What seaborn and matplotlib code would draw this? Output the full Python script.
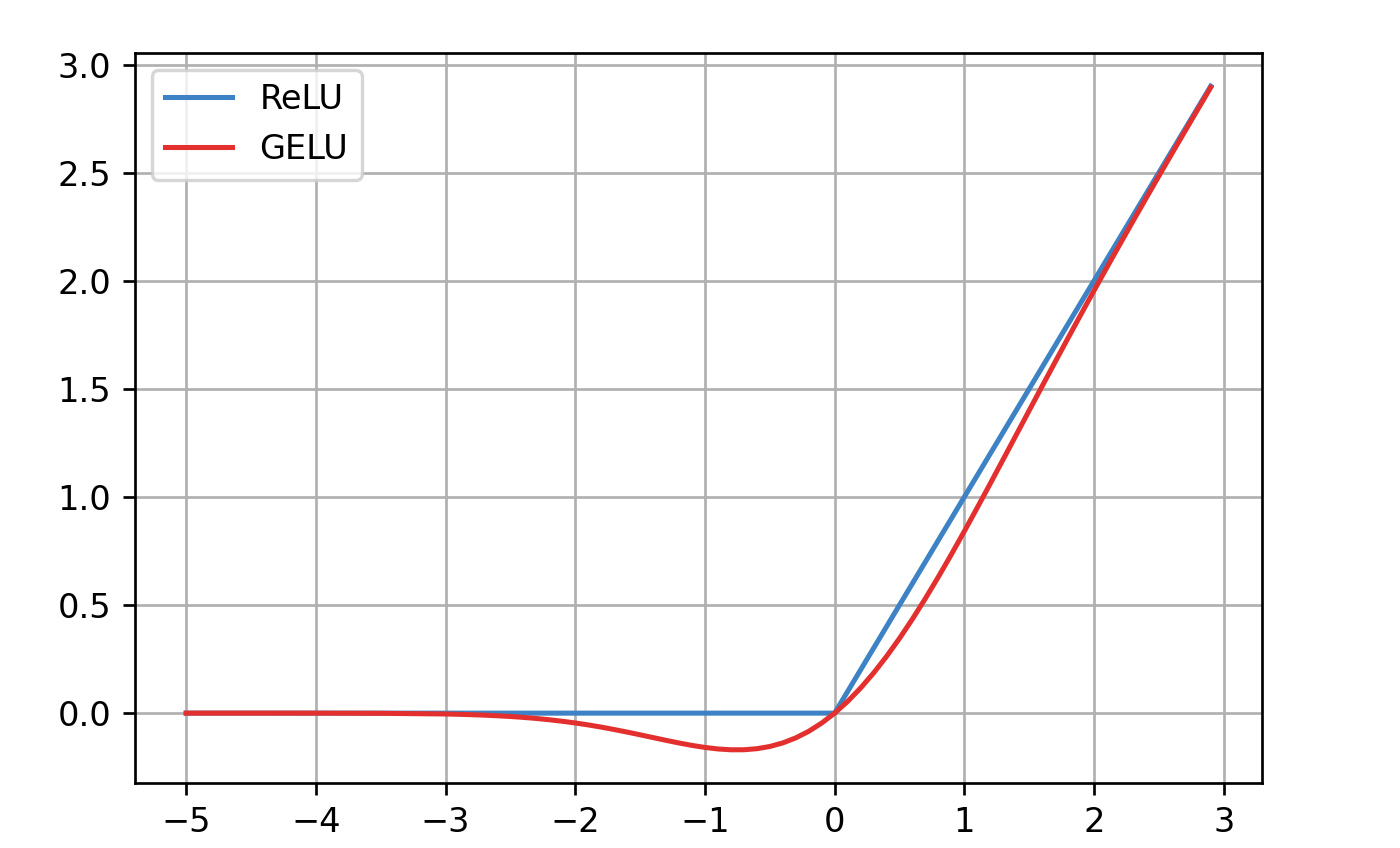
import matplotlib
matplotlib.use("Agg")
import matplotlib.pyplot as plt
import seaborn as sns

# ReLU series (piecewise linear)
relu_x = [-5.0, 0.0, 2.9]
relu_y = [0.0, 0.0, 2.9]

# GELU series
gelu_x = [-5.0, -4.5, -4.0, -3.5,
          -3.0, -2.9, -2.8, -2.7, -2.6, -2.5, -2.4, -2.3, -2.2, -2.1,
          -2.0, -1.9, -1.8, -1.7, -1.6, -1.5, -1.4, -1.3, -1.2, -1.1,
          -1.0, -0.9, -0.8, -0.7, -0.6, -0.5, -0.4, -0.3, -0.2, -0.1,
          0.0, 0.1, 0.2, 0.3, 0.4, 0.5, 0.6, 0.7, 0.8, 0.9,
          1.0, 1.1, 1.2, 1.3, 1.4, 1.5, 1.6, 1.7, 1.8, 1.9,
          2.0, 2.1, 2.2, 2.3, 2.4, 2.5, 2.6, 2.7, 2.8, 2.9]
gelu_y = [0.0, 0.0, -0.0001, -0.0008,
          -0.0040, -0.0054, -0.0072, -0.0094, -0.0122, -0.0155, -0.0197, -0.0246, -0.0306, -0.0376,
          -0.0455, -0.0545, -0.0646, -0.0758, -0.0877, -0.1002, -0.1131, -0.1258, -0.1381, -0.1493,
          -0.1587, -0.1657, -0.1695, -0.1694, -0.1646, -0.1543, -0.1378, -0.1146, -0.0841, -0.0460,
          0.0, 0.0540, 0.1159, 0.1854, 0.2622, 0.3457, 0.4354, 0.5306, 0.6305, 0.7343,
          0.8413, 0.9507, 1.0619, 1.1742, 1.2869, 1.3998, 1.5123, 1.6242, 1.7354, 1.8455,
          1.9545, 2.0624, 2.1694, 2.2754, 2.3803, 2.4845, 2.5878, 2.6906, 2.7927, 2.8945]

x_ticks = [-5, -4, -3, -2, -1, 0, 1, 2, 3]
y_ticks = [0.0, 0.5, 1.0, 1.5, 2.0, 2.5, 3.0]

DPI = 242
fig = plt.figure(figsize=(1400 / DPI, 848 / DPI), dpi=DPI)
ax = fig.add_axes([0.0964, 0.0767, 0.9014 - 0.0964, 0.9375 - 0.0767])

sns.lineplot(x=relu_x, y=relu_y, ax=ax, color="#3c82c4", label="ReLU",
             linewidth=1.5, sort=False)
sns.lineplot(x=gelu_x, y=gelu_y, ax=ax, color="#e3302f", label="GELU",
             linewidth=1.5, sort=False)

ax.set_xticks(x_ticks)
ax.set_yticks(y_ticks)
ax.grid(True, color="#b0b0b0", linewidth=0.8)
ax.legend(loc="upper left")
for s in ax.spines.values():
    s.set_linewidth(0.8)

fig.savefig("out.png", dpi=DPI)
